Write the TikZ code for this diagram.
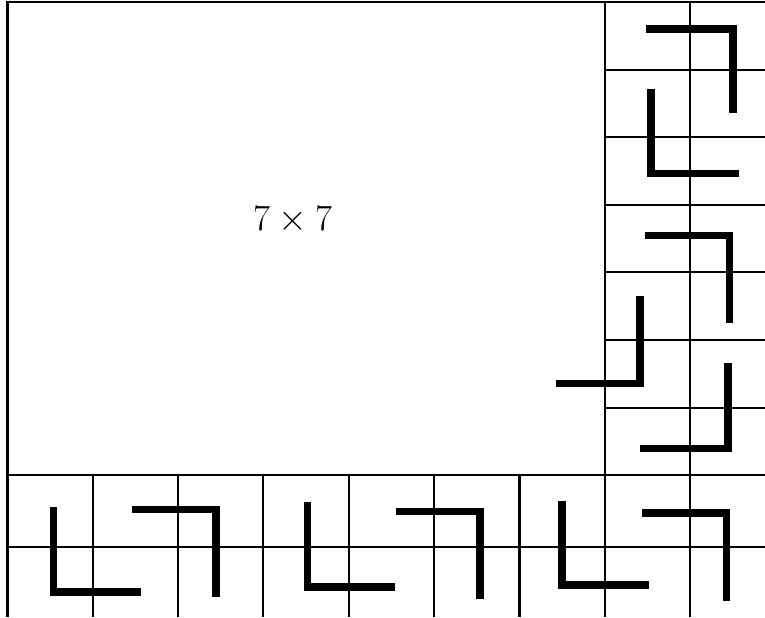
\RequirePackage{fix-cm}
\documentclass[tikz,border=0pt]{standalone}
\definecolor{gridInk}{HTML}{000000}
\tikzset{
  grid line/.style={draw=gridInk, line width=1.8pt},
  tile bar/.style={draw=gridInk, line width=6.2pt, line cap=butt, line join=miter},
  size label/.style={font=\fontsize{31.5}{38}\selectfont, text=gridInk},
}
\begin{document}
\begin{tikzpicture}[x=0.03cm,y=-0.03cm]
  \useasboundingbox (0,0) rectangle (765,617);
  % frame of the 7x7 square and the strips round it
  \draw[grid line] (7.5,617) -- (7.5,2) -- (765,2);
  \draw[grid line] (7.5,475) -- (765,475);
  \draw[grid line] (7.5,547) -- (765,547);
  \draw[grid line] (605,2) -- (605,617);
  \draw[grid line] (690,2) -- (690,617);
  \foreach \gx in {92.8,178,263.4,348.8,434,519.5}
    \draw[grid line] (\gx,475) -- (\gx,617);
  \foreach \gy in {69.6,137,204.8,272.4,340,407.6}
    \draw[grid line] (605,\gy) -- (765,\gy);
  \node[size label] (area) at (292.5,220) {$7\times 7$};
  % L-trominoes, right strip
  \draw[tile bar] (646,29) -- (733,29) -- (733,113);
  \draw[tile bar] (651,89) -- (651,173.5) -- (739,173.5);
  \draw[tile bar] (645,235.5) -- (729.5,235.5) -- (729.5,323);
  \draw[tile bar] (640,296) -- (640,383.7) -- (556,383.7);
  \draw[tile bar] (728,363) -- (728,448.7) -- (640,448.7);
  % L-trominoes, bottom strip
  \draw[tile bar] (53.3,507) -- (53.3,592) -- (141,592);
  \draw[tile bar] (131.7,509.3) -- (216,509.3) -- (216,596.7);
  \draw[tile bar] (307.7,502.3) -- (307.7,587) -- (395,587);
  \draw[tile bar] (396,511.3) -- (480,511.3) -- (480,599);
  \draw[tile bar] (562,500.7) -- (562,585) -- (649.3,585);
  \draw[tile bar] (642,513) -- (726.7,513) -- (726.7,600.7);
\end{tikzpicture}
\end{document}
